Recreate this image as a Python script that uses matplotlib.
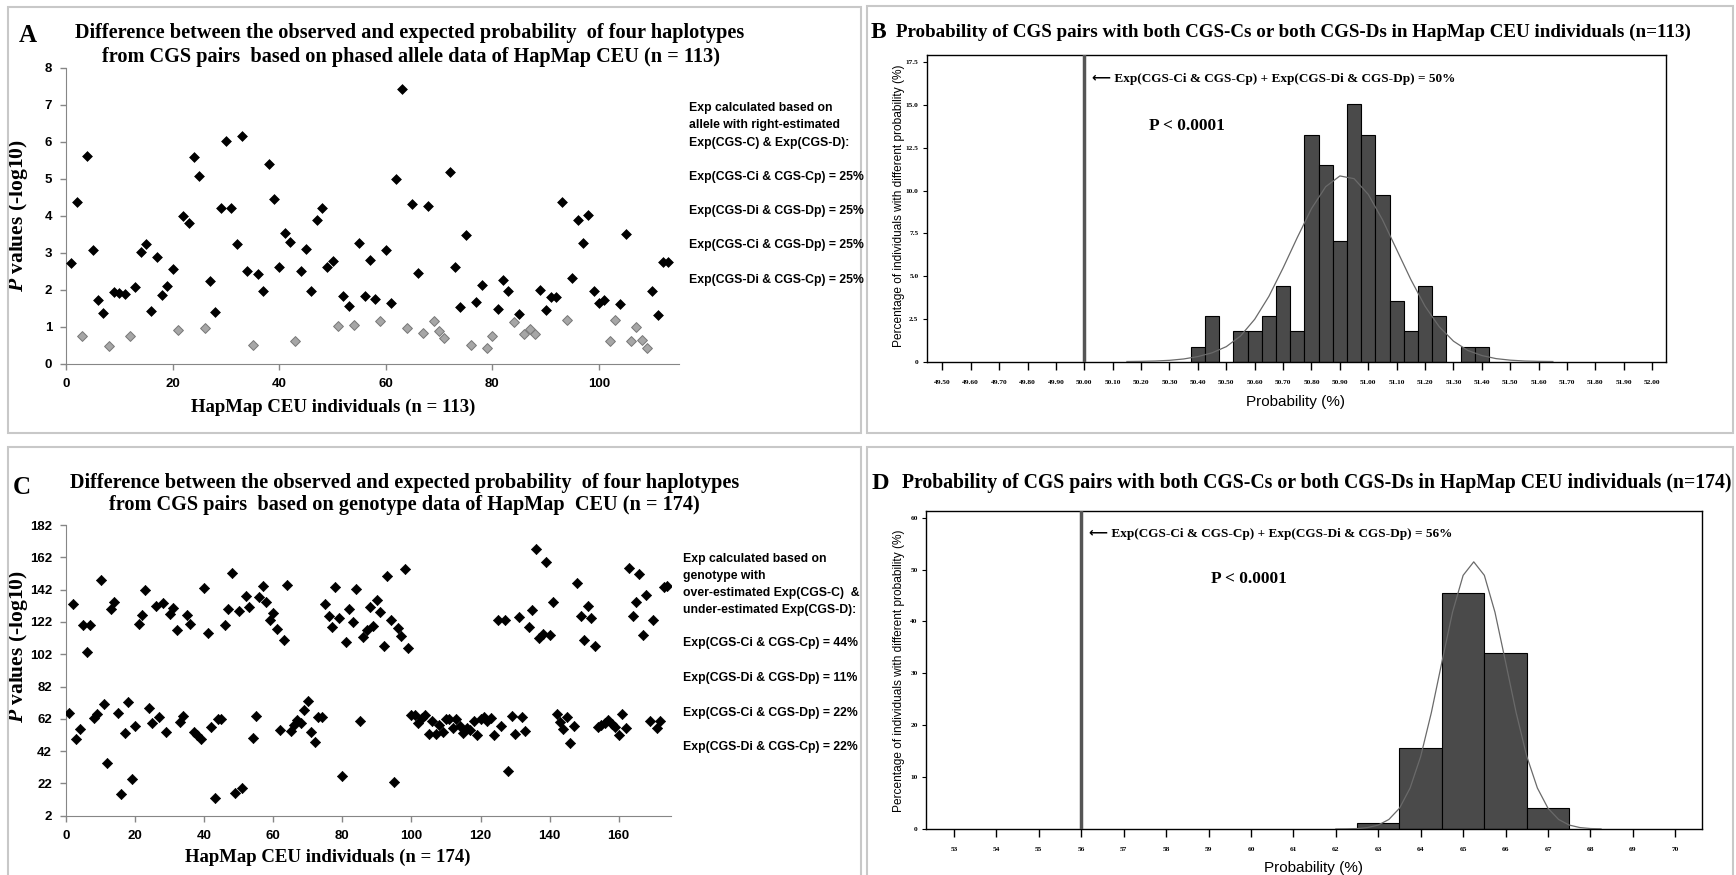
import numpy as np
import matplotlib
matplotlib.use("Agg")
import matplotlib.pyplot as plt
from matplotlib.patches import Rectangle

plt.rcParams['mathtext.fontset'] = 'custom'
plt.rcParams['mathtext.it'] = 'Liberation Serif:italic:bold'
plt.rcParams['mathtext.rm'] = 'Liberation Serif:bold'

SERIF = ['Liberation Serif', 'DejaVu Serif']
ARROWF = ['Liberation Serif', 'DejaVu Sans']
NARROW = ['Liberation Sans Narrow', 'Liberation Sans', 'DejaVu Sans']
SANS = ['Liberation Sans', 'DejaVu Sans']

# ---- panel A: phased allele data, 113 individuals ----
a_sig_x = [1, 2, 4, 5, 6, 7, 9, 10, 11, 13, 14, 15, 16, 17, 18, 19, 20, 22, 23, 24,
           25, 27, 28, 29, 30, 31, 32, 33, 34, 36, 37, 38, 39, 40, 41, 42, 44, 45, 46, 47,
           48, 49, 50, 52, 53, 55, 56, 57, 58, 60, 61, 62, 63, 65, 66, 68, 72, 73, 74, 75,
           77, 78, 81, 82, 83, 85, 89, 90, 91, 92, 93, 95, 96, 97, 98, 99, 100, 101, 104, 105,
           110, 111, 112, 113]
a_sig_y = [2.72, 4.39, 5.61, 3.09, 1.73, 1.38, 1.95, 1.92, 1.88, 2.09, 3.04, 3.24, 1.44, 2.90, 1.86, 2.12, 2.56, 4.01, 3.81, 5.59,
           5.07, 2.23, 1.41, 4.21, 6.03, 4.21, 3.24, 6.16, 2.51, 2.43, 1.96, 5.40, 4.47, 2.62, 3.55, 3.31, 2.52, 3.10, 1.96, 3.89,
           4.21, 2.61, 2.79, 1.83, 1.57, 3.27, 1.84, 2.82, 1.75, 3.08, 1.65, 4.99, 7.42, 4.33, 2.46, 4.28, 5.20, 2.62, 1.55, 3.48,
           1.67, 2.13, 1.49, 2.27, 1.96, 1.36, 2.01, 1.46, 1.80, 1.80, 4.39, 2.33, 3.89, 3.27, 4.02, 1.98, 1.66, 1.74, 1.61, 3.50,
           1.98, 1.33, 2.75, 2.77]
a_ns_x = [3, 8, 12, 21, 26, 35, 43, 51, 54, 59, 64, 67, 69, 70, 71, 76, 79, 80, 84, 86,
          87, 88, 94, 102, 103, 106, 107, 108, 109]
a_ns_y = [0.77, 0.49, 0.76, 0.91, 0.97, 0.51, 0.63, 1.02, 1.05, 1.16, 0.96, 0.84, 1.15, 0.88, 0.70, 0.52, 0.42, 0.77, 1.14, 0.81,
          0.95, 0.81, 1.20, 0.62, 1.19, 0.61, 1.01, 0.64, 0.44]
a_notes = ["Exp calculated based on", "allele with right-estimated", "Exp(CGS-C) & Exp(CGS-D):",
           "Exp(CGS-Ci & CGS-Cp) = 25%", "Exp(CGS-Di & CGS-Dp) = 25%",
           "Exp(CGS-Ci & CGS-Dp) = 25%", "Exp(CGS-Di & CGS-Cp) = 25%"]

# ---- panel B: histogram, 113 individuals ----
b_centers = [50.40, 50.45, 50.55, 50.60, 50.65, 50.70, 50.75, 50.80, 50.85, 50.90,
             50.95, 51.00, 51.05, 51.10, 51.15, 51.20, 51.25, 51.35, 51.40]
b_pct = [0.88, 2.65, 1.77, 1.77, 2.65, 4.42, 1.77, 13.27, 11.50, 7.08,
         15.04, 13.27, 9.73, 3.54, 1.77, 4.42, 2.65, 0.88, 0.88]
b_curve_x = [50.15, 50.20, 50.25, 50.30, 50.35, 50.40, 50.45, 50.50, 50.55, 50.60, 50.65,
             50.70, 50.75, 50.80, 50.85, 50.90, 50.95, 51.00, 51.05, 51.10, 51.15, 51.20,
             51.25, 51.30, 51.35, 51.40, 51.45, 51.50, 51.55, 51.60, 51.65]
b_curve_y = [0.01, 0.02, 0.04, 0.08, 0.16, 0.30, 0.52, 0.88, 1.50, 2.48, 3.82,
             5.48, 7.26, 8.95, 10.23, 10.86, 10.70, 9.78, 8.30, 6.55, 4.80, 3.24,
             2.04, 1.20, 0.66, 0.36, 0.18, 0.09, 0.04, 0.02, 0.01]

# ---- panel C: genotype data, 174 individuals ----
c_y = [65.4, 132.9, 49.3, 55.9, 119.9, 103.5, 120.3, 62.3, 64.7, 147.9,
       71.1, 34.4, 130.2, 134.3, 65.6, 15.4, 53.0, 72.6, 24.5, 57.7,
       120.9, 126.3, 141.5, 68.5, 59.2, 132.0, 63.3, 133.7, 53.6, 126.7,
       130.4, 116.8, 59.8, 63.5, 126.3, 120.9, 54.0, 51.9, 49.7, 142.8,
       115.3, 56.9, 13.1, 61.6, 61.6, 120.1, 129.8, 152.5, 15.8, 128.9,
       18.9, 138.2, 131.4, 49.9, 63.7, 137.6, 144.2, 134.1, 123.2, 127.5,
       117.4, 55.3, 110.8, 144.6, 54.6, 58.1, 61.2, 59.6, 67.4, 73.2,
       53.8, 47.6, 63.3, 62.9, 132.9, 125.6, 119.0, 143.4, 124.6, 26.8,
       109.5, 129.8, 121.8, 142.3, 60.8, 112.4, 117.0, 131.4, 119.4, 135.3,
       128.1, 107.3, 150.6, 123.4, 23.1, 118.0, 113.0, 154.7, 106.0, 64.3,
       64.3, 59.2, 62.3, 64.3, 52.4, 60.8, 52.6, 58.2, 54.0, 61.6,
       61.6, 56.5, 61.6, 57.5, 53.4, 56.5, 55.0, 60.6, 51.7, 61.6,
       63.3, 60.8, 62.3, 51.7, 123.2, 57.5, 123.2, 29.7, 63.7, 52.4,
       125.0, 63.3, 54.2, 118.6, 129.3, 166.9, 111.8, 114.5, 158.9, 113.7,
       134.1, 65.0, 60.0, 55.9, 63.3, 46.8, 57.5, 145.9, 125.8, 111.0,
       131.8, 124.2, 107.3, 57.1, 58.1, 59.2, 61.2, 58.6, 57.1, 52.0,
       64.7, 56.1, 155.1, 125.8, 134.5, 151.4, 113.9, 138.6, 60.6, 123.2,
       56.5, 60.6, 143.8, 144.2]
c_x = list(range(1, len(c_y) + 1))
c_notes = ["Exp calculated based on", "genotype with", "over-estimated Exp(CGS-C)  &",
           "under-estimated Exp(CGS-D):", "Exp(CGS-Ci & CGS-Cp) = 44%",
           "Exp(CGS-Di & CGS-Dp) = 11%", "Exp(CGS-Ci & CGS-Dp) = 22%",
           "Exp(CGS-Di & CGS-Cp) = 22%"]

# ---- panel D: histogram, 174 individuals ----
d_centers = [63, 64, 65, 66, 67]
d_pct = [1.15, 15.52, 45.40, 33.91, 4.02]
d_curve_x = [62.0, 62.25, 62.5, 62.75, 63.0, 63.25, 63.5, 63.75, 64.0, 64.25, 64.5, 64.75,
             65.0, 65.25, 65.5, 65.75, 66.0, 66.25, 66.5, 66.75, 67.0, 67.25, 67.5, 67.75,
             68.0, 68.25]
d_curve_y = [0.01, 0.03, 0.09, 0.28, 0.76, 1.84, 4.0, 7.9, 14.0, 22.4, 32.2, 41.8,
             48.9, 51.5, 48.9, 41.8, 32.2, 22.4, 14.0, 7.9, 4.0, 1.84, 0.76, 0.28,
             0.09, 0.03]

W, H = 1736, 875
fig = plt.figure(figsize=(W / 100, H / 100), dpi=100)


def T(px, py, s, **kw):
    return fig.text(px / W, 1 - py / H, s, **kw)


def axes_px(x0, y0, x1, y1):
    return fig.add_axes([x0 / W, 1 - y1 / H, (x1 - x0) / W, (y1 - y0) / H])


# panel frames
for x0, y0, x1, y1 in [(8, 7, 861, 433), (867, 6, 1733, 433), (8, 447, 861, 880), (867, 447, 1733, 880)]:
    fig.patches.append(Rectangle((x0 / W, 1 - y1 / H), (x1 - x0) / W, (y1 - y0) / H,
                                 transform=fig.transFigure, fill=False,
                                 edgecolor='#c8c8c8', lw=1.5))


def excel_style(ax):
    for s in ['top', 'right']:
        ax.spines[s].set_visible(False)
    for s in ['left', 'bottom']:
        ax.spines[s].set_color('#868686')
    ax.tick_params(color='#868686', length=4, width=1, pad=6)
    for lab in ax.get_xticklabels() + ax.get_yticklabels():
        lab.set_fontfamily(NARROW)
        lab.set_fontweight('bold')
        lab.set_fontsize(9.5)


def spss_style(ax):
    for s in ax.spines.values():
        s.set_color('black')
        s.set_linewidth(1.0)
    ax.tick_params(axis='x', direction='out', length=6, width=1, pad=7)
    ax.tick_params(axis='y', direction='out', length=3, width=0.8, pad=3)
    for lab in ax.get_xticklabels() + ax.get_yticklabels():
        lab.set_fontfamily(SERIF)
        lab.set_fontweight('bold')
        lab.set_fontsize(5.3)


# ---------------- A ----------------
axA = axes_px(66, 68, 679, 364)
axA.scatter(a_ns_x, a_ns_y, marker='D', s=25, c='#a6a6a6', edgecolors='#787878',
            linewidths=0.7, zorder=3)
axA.scatter(a_sig_x, a_sig_y, marker='D', s=25, c='black', edgecolors='black',
            linewidths=0.5, zorder=3)
axA.set_xlim(0, 115)
axA.set_ylim(0, 8)
axA.set_xticks(range(0, 101, 20))
axA.set_yticks(range(0, 9))
excel_style(axA)
axA.set_ylabel(r"$P$ values (-log10)", fontfamily=SERIF, fontweight='bold', fontsize=15.5)
axA.yaxis.set_label_coords(-0.059, 0.5)

T(28, 36, "A", fontfamily=SERIF, fontweight='bold', fontsize=18, ha='center', va='center')
T(410, 33, "Difference between the observed and expected probability  of four haplotypes",
  fontfamily=SERIF, fontweight='bold', fontsize=14.6, ha='center', va='center')
T(411, 57, "from CGS pairs  based on phased allele data of HapMap CEU (n = 113)",
  fontfamily=SERIF, fontweight='bold', fontsize=14.6, ha='center', va='center')
T(333, 407, "HapMap CEU individuals (n = 113)", fontfamily=SERIF, fontweight='bold',
  fontsize=13.5, ha='center', va='center')
for s, py in zip(a_notes, [108, 125, 143, 177, 211, 245, 280]):
    T(689, py, s, fontfamily=NARROW, fontweight='bold', fontsize=8.8, ha='left', va='center')

# ---------------- B ----------------
axB = axes_px(926.7, 55, 1665.6, 361.7)
axB.bar(b_centers, b_pct, width=0.05, color='#4a4a4a', edgecolor='black', lw=0.8, zorder=2)
axB.plot(b_curve_x, b_curve_y, color='#6a6a6a', lw=0.9, zorder=3)
axB.axvline(50.0, color='#555555', lw=2.5, zorder=4)
axB.set_xlim(49.445, 52.047)
axB.set_ylim(0, 17.93)
bt = np.round(np.arange(49.5, 52.001, 0.1), 2)
axB.set_xticks(bt)
axB.set_xticklabels([f"{v:.2f}" for v in bt])
axB.set_yticks([0, 2.5, 5, 7.5, 10, 12.5, 15, 17.5])
axB.set_yticklabels(["0", "2.5", "5.0", "7.5", "10.0", "12.5", "15.0", "17.5"])
spss_style(axB)

T(878, 32, "B", fontfamily=SERIF, fontweight='bold', fontsize=17, ha='center', va='center')
T(896, 32, "Probability of CGS pairs with both CGS-Cs or both CGS-Ds in HapMap CEU individuals (n=113)",
  fontfamily=SERIF, fontweight='bold', fontsize=13.7, ha='left', va='center')
T(1092, 79, "\u27f5 Exp(CGS-Ci & CGS-Cp) + Exp(CGS-Di & CGS-Dp) = 50%", fontfamily=ARROWF,
  fontweight='bold', fontsize=9.5, ha='left', va='center')
T(1149, 126, "P < 0.0001", fontfamily=SERIF, fontweight='bold', fontsize=12.5, ha='left', va='center')
T(1296, 402, "Probability (%)", fontfamily=SANS, fontsize=11, ha='center', va='center')
T(899, 206, "Percentage of individuals with different probability (%)", fontfamily=SANS,
  fontsize=8.6, rotation=90, ha='center', va='center')

# ---------------- C ----------------
axC = axes_px(66, 525, 670.5, 815.7)
axC.scatter(c_x, c_y, marker='D', s=27, c='black', edgecolors='black', linewidths=0.5, zorder=3)
axC.set_xlim(0, 175)
axC.set_ylim(2, 182)
axC.set_xticks(range(0, 161, 20))
axC.set_yticks(range(2, 183, 20))
excel_style(axC)
axC.set_ylabel(r"$P$ values (-log10)", fontfamily=SERIF, fontweight='bold', fontsize=15.5)
axC.yaxis.set_label_coords(-0.06, 0.58)

T(22, 487, "C", fontfamily=SERIF, fontweight='bold', fontsize=18, ha='center', va='center')
T(405, 483, "Difference between the observed and expected probability  of four haplotypes",
  fontfamily=SERIF, fontweight='bold', fontsize=14.6, ha='center', va='center')
T(404, 505, "from CGS pairs  based on genotype data of HapMap  CEU (n = 174)",
  fontfamily=SERIF, fontweight='bold', fontsize=14.6, ha='center', va='center')
T(328, 857, "HapMap CEU individuals (n = 174)", fontfamily=SERIF, fontweight='bold',
  fontsize=13.5, ha='center', va='center')
for s, py in zip(c_notes, [559, 576, 593, 610, 643, 678, 713, 747]):
    T(683, py, s, fontfamily=NARROW, fontweight='bold', fontsize=8.8, ha='left', va='center')

# ---------------- D ----------------
axD = axes_px(926, 511, 1702, 829)
axD.bar(d_centers, d_pct, width=1.0, color='#4a4a4a', edgecolor='black', lw=0.8, zorder=2)
axD.plot(d_curve_x, d_curve_y, color='#6a6a6a', lw=0.9, zorder=3)
axD.axvline(56, color='#555555', lw=2.5, zorder=4)
axD.set_xlim(52.34, 70.63)
axD.set_ylim(0, 61.3)
axD.set_xticks(range(53, 71))
axD.set_yticks(range(0, 61, 10))
spss_style(axD)

T(880, 483, "D", fontfamily=SERIF, fontweight='bold', fontsize=17.5, ha='center', va='center')
T(902, 483, "Probability of CGS pairs with both CGS-Cs or both CGS-Ds in HapMap CEU individuals (n=174)",
  fontfamily=SERIF, fontweight='bold', fontsize=14.2, ha='left', va='center')
T(1089, 534, "\u27f5 Exp(CGS-Ci & CGS-Cp) + Exp(CGS-Di & CGS-Dp) = 56%", fontfamily=ARROWF,
  fontweight='bold', fontsize=9.5, ha='left', va='center')
T(1211, 579, "P < 0.0001", fontfamily=SERIF, fontweight='bold', fontsize=12.5, ha='left', va='center')
T(1313, 868, "Probability (%)", fontfamily=SANS, fontsize=11, ha='center', va='center')
T(899, 671, "Percentage of individuals with different probability (%)", fontfamily=SANS,
  fontsize=8.6, rotation=90, ha='center', va='center')

fig.savefig("out.png", dpi=100, facecolor='white')
